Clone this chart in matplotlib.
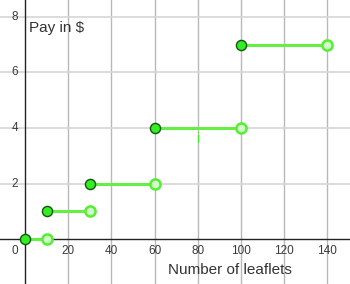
import matplotlib
matplotlib.use("Agg")
import matplotlib.pyplot as plt

plt.rcParams['font.family'] = ['Liberation Sans', 'DejaVu Sans']

# Step segments: start x, end x, pay value
seg_start = [0, 10, 30, 60, 100]
seg_end = [10, 30, 60, 100, 140]
seg_value = [0, 1, 2, 4, 7]

x_ticks = [0, 20, 40, 60, 80, 100, 120, 140]
y_ticks = [2, 4, 6, 8]

fig = plt.figure(figsize=(3.5, 2.84), dpi=100)
ax = fig.add_axes([0, 0, 1, 1])
ax.set_xlim(-11.6, 150.5)
ax.set_ylim(-1.62, 8.61)
ax.axis('off')

# grid
for xv in x_ticks[1:]:
    ax.axvline(xv, color='#b8b8b8', lw=1.0, zorder=0)
for yv in y_ticks:
    ax.axhline(yv, color='#d6d6d6', lw=1.2, zorder=0)
# axes
ax.axhline(0, color='#222222', lw=1.0, zorder=1)
ax.axvline(0, color='#222222', lw=1.0, zorder=1)

# tick labels
for xv in x_ticks:
    xp = -4.6 if xv == 0 else xv
    ax.text(xp, -0.42, str(xv), ha='center', va='center', fontsize=8.5, color='#3a3a3a')
for yv in y_ticks:
    ax.text(-4.6, yv, str(yv), ha='center', va='center', fontsize=8.5, color='#3a3a3a')

green_line = '#66ee44'
for s, e, v in zip(seg_start, seg_end, seg_value):
    ax.plot([s, e], [v, v], color=green_line, lw=2.2, zorder=2, solid_capstyle='butt')
    ax.plot([e], [v], marker='o', ms=7.3, mfc='#d0ffc8', mec='#55ee33', mew=1.8, zorder=3)
    ax.plot([s], [v], marker='o', ms=7.3, mfc='#33ee22', mec='#115511', mew=1.0, zorder=4)

ax.text(2, 7.6, 'Pay in $', ha='left', va='center', fontsize=11, color='#333333')
ax.text(66, -1.12, 'Number of leaflets', ha='left', va='center', fontsize=11, color='#333333')
ax.text(80, 3.62, 'i', ha='center', va='center', fontsize=10, color='#44ee22')

fig.savefig('out.png', dpi=100)
